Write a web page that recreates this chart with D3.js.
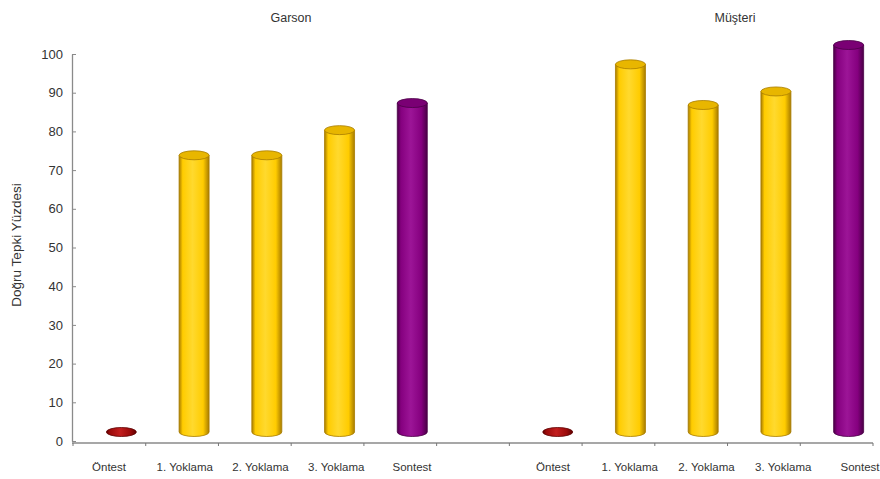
<!DOCTYPE html>
<html>
<head>
<meta charset="utf-8">
<script src="https://cdn.jsdelivr.net/npm/d3@7/dist/d3.min.js"></script>
<style>
  html, body { margin: 0; padding: 0; background: #fff; }
  svg { display: block; font-family: "Liberation Sans", Arial, sans-serif; }
</style>
</head>
<body>
<svg id="chart" width="880" height="479"></svg>
<script>
// Categories shared by both panels
const categories = ["Öntest", "1. Yoklama", "2. Yoklama", "3. Yoklama", "Sontest"];
const panelTitles = ["Garson", "Müşteri"];
// Percentage of correct responses per phase
const garsonValues = [0, 71.5, 71.5, 78, 85];
const musteriValues = [0, 95, 84.5, 88, 100];
const yTicks = [0, 10, 20, 30, 40, 50, 60, 70, 80, 90, 100];
const yAxisTitle = "Doğru Tepki Yüzdesi";

const phaseColor = {
  "Öntest":     { base: "#9b0a0a", dark: "#5e0000", light: "#c21e1e", top: "#8e0606" },
  "1. Yoklama": { base: "#ffcc00", dark: "#a87c00", light: "#ffd92e", top: "#e8b600" },
  "2. Yoklama": { base: "#ffcc00", dark: "#a87c00", light: "#ffd92e", top: "#e8b600" },
  "3. Yoklama": { base: "#ffcc00", dark: "#a87c00", light: "#ffd92e", top: "#e8b600" },
  "Sontest":    { base: "#85007f", dark: "#4a0046", light: "#9c1597", top: "#7a0074" }
};

const svg = d3.select("#chart");

// One continuous category axis: 5 slots, an empty gap slot, 5 slots
const slots = [];
panelTitles.forEach((p, pi) => {
  categories.forEach(c => slots.push(p + "|" + c));
  if (pi === 0) slots.push("gap");
});
const x = d3.scaleBand().domain(slots).range([73, 873]).paddingInner(0).paddingOuter(0);
const y = d3.scaleLinear().domain([0, 100]).range([441, 54]);

// 3D depth offset of the columns relative to the front axes
const depthX = 12, depthY = -9;
const rx = 15, ry = 4.5;

// gradients
const defs = svg.append("defs");
Object.entries(phaseColor).forEach(([k, c], i) => {
  const g = defs.append("linearGradient").attr("id", "g" + i).attr("x1", 0).attr("x2", 1).attr("y1", 0).attr("y2", 0);
  g.append("stop").attr("offset", "0%").attr("stop-color", c.dark);
  g.append("stop").attr("offset", "12%").attr("stop-color", c.base);
  g.append("stop").attr("offset", "45%").attr("stop-color", c.light);
  g.append("stop").attr("offset", "80%").attr("stop-color", c.base);
  g.append("stop").attr("offset", "100%").attr("stop-color", c.dark);
  c.grad = "url(#g" + i + ")";
});

// y axis
const yAxis = d3.axisLeft(y).tickValues(yTicks).tickSizeInner(-4).tickSizeOuter(0).tickPadding(9);
const ya = svg.append("g").attr("transform", "translate(72,0)").call(yAxis);
ya.select(".domain").attr("stroke", "#8a8a8a").attr("stroke-width", 1.3);
ya.selectAll(".tick line").attr("stroke", "#8a8a8a");
ya.selectAll(".tick text").attr("fill", "#333").attr("font-size", "13px")
  .attr("font-family", "'Liberation Sans', Arial, sans-serif");

// x axis line with ticks at slot boundaries
const xa = svg.append("g");
xa.append("line").attr("x1", 72).attr("x2", 873).attr("y1", 443).attr("y2", 443)
  .attr("stroke", "#8a8a8a").attr("stroke-width", 1.3);
const boundaries = slots.map(s => x(s)).concat([x(slots[slots.length - 1]) + x.bandwidth()]);
xa.selectAll("line.tk").data(boundaries).join("line").attr("class", "tk")
  .attr("x1", d => d).attr("x2", d => d).attr("y1", 443).attr("y2", 446)
  .attr("stroke", "#777");

// columns
const panelData = [garsonValues, musteriValues];
panelTitles.forEach((p, pi) => {
  const data = categories.map((c, i) => ({ key: p + "|" + c, cat: c, v: panelData[pi][i] }));
  const g = svg.append("g");
  data.forEach(d => {
    const col = phaseColor[d.cat];
    const cx = x(d.key) + x.bandwidth() / 2 + depthX;
    const yTop = y(d.v) + depthY;
    const yBot = y(0) + depthY;
    if (d.v > 0) {
      g.append("path")
        .attr("d", `M${cx - rx},${yTop} L${cx - rx},${yBot} A${rx},${ry} 0 0 0 ${cx + rx},${yBot} L${cx + rx},${yTop} Z`)
        .attr("fill", col.grad).attr("stroke", col.dark).attr("stroke-width", 0.8);
    }
    g.append("ellipse").attr("cx", cx).attr("cy", yTop).attr("rx", rx).attr("ry", ry)
      .attr("fill", d.v > 0 ? col.top : col.grad).attr("stroke", col.dark).attr("stroke-width", 0.8);
  });
});

// category labels
const labelRanges = [[109, 412], [553, 860]];
panelTitles.forEach((p, pi) => {
  const lx = d3.scalePoint().domain(categories).range(labelRanges[pi]);
  svg.append("g").selectAll("text").data(categories).join("text")
    .attr("x", d => lx(d)).attr("y", 471).attr("text-anchor", "middle")
    .attr("font-size", "11.5px").attr("fill", "#333").text(d => d);
});

// panel titles
const titleX = [291, 735];
panelTitles.forEach((t, i) => {
  svg.append("text").attr("x", titleX[i]).attr("y", 22).attr("text-anchor", "middle")
    .attr("font-size", "12.5px").attr("fill", "#333").text(t);
});

// y axis title
svg.append("text").attr("transform", "translate(21,245) rotate(-90)")
  .attr("text-anchor", "middle").attr("font-size", "13.5px").attr("fill", "#333").text(yAxisTitle);
</script>
</body>
</html>
